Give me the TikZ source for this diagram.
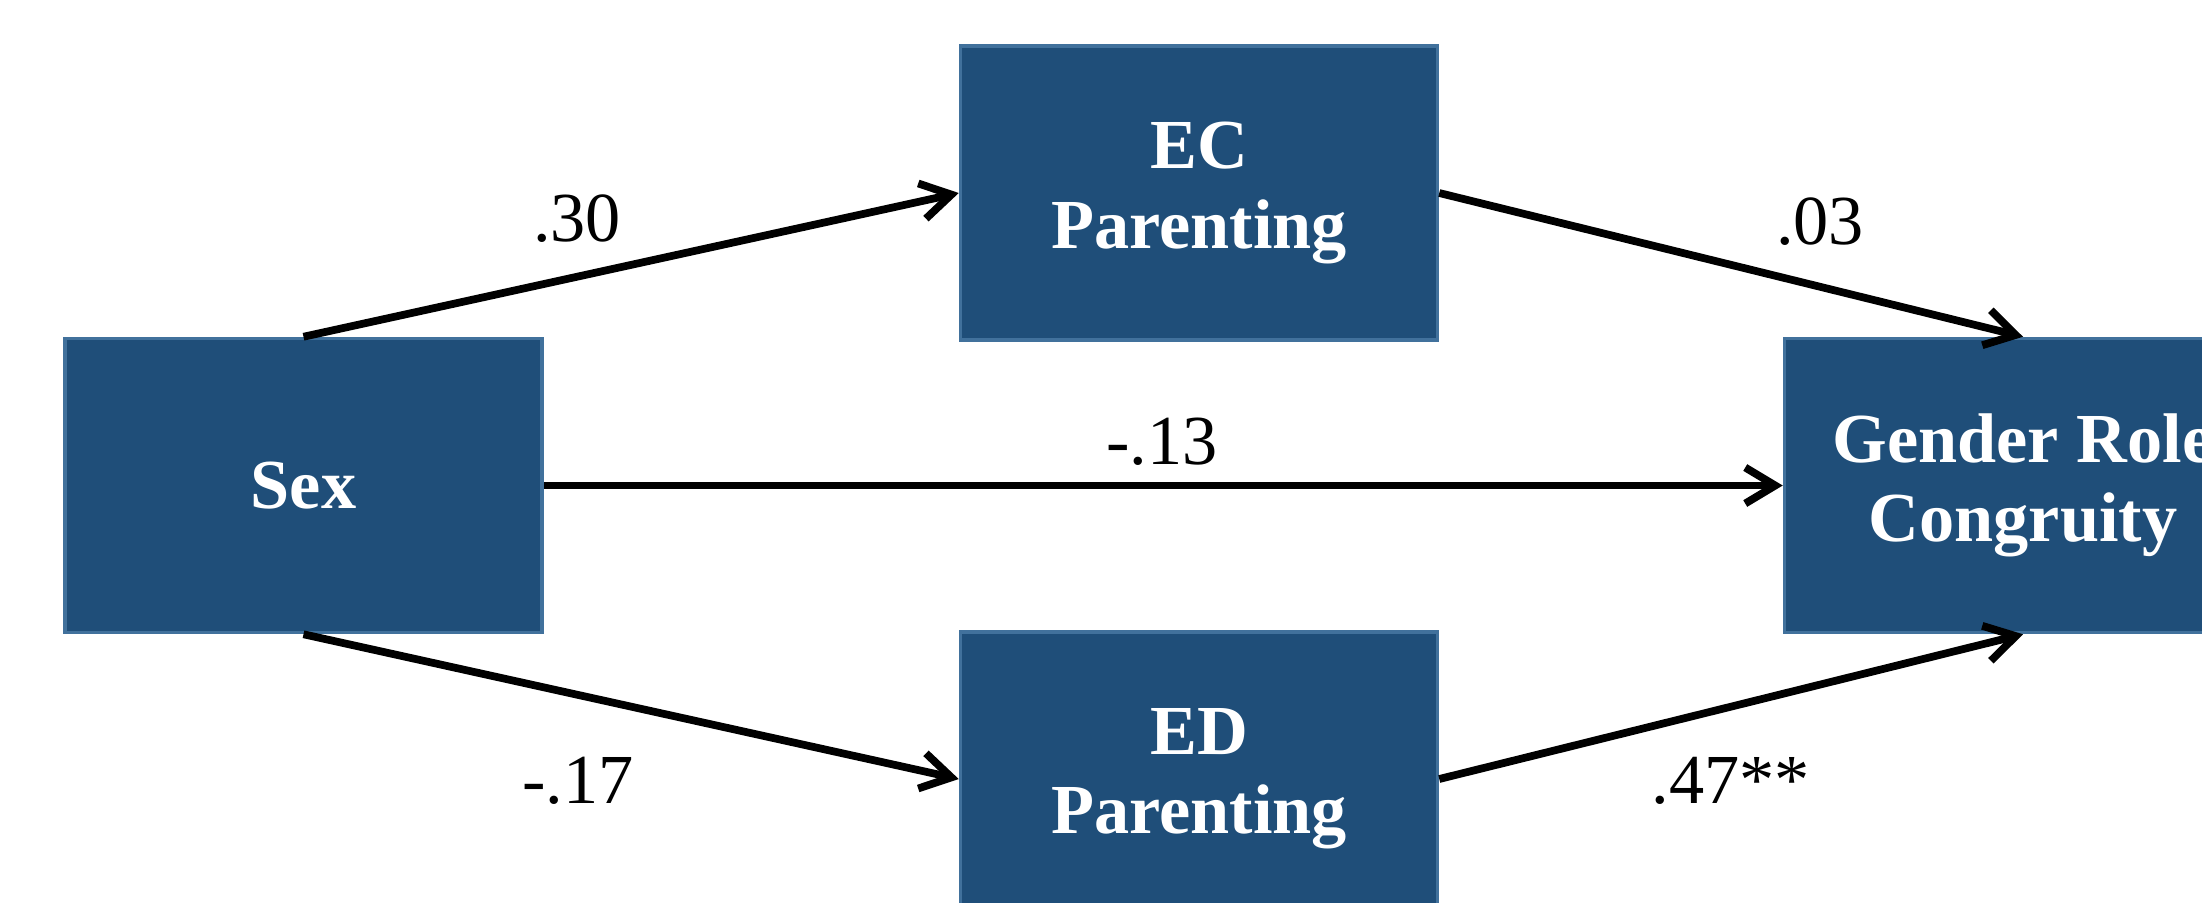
\documentclass[tikz,border=0pt]{standalone}
\usepackage{fontspec}
\setmainfont{Liberation Serif}
\usetikzlibrary{arrows.meta}
\definecolor{boxblue}{HTML}{1F4E79}
\definecolor{boxline}{HTML}{41719C}
\begin{document}
\begin{tikzpicture}[
  var/.style={draw=boxline, line width=1pt, fill=boxblue, text=white,
    minimum width=4.77cm, minimum height=2.94cm, align=center,
    font=\fontsize{20}{22.5}\selectfont\bfseries},
  coef/.style={font=\fontsize{20}{22.5}\selectfont},
  path/.style={draw, line width=2.2pt, -{Straight Barb[length=3mm,width=3.6mm]}}]
\useasboundingbox (0,0) rectangle (22.02,9.02);
\node[var] (sex) at (3.035,4.165) {Sex};
\node[var] (ec) at (11.99,7.09) {EC\\Parenting};
\node[var] (ed) at (11.99,1.23) {ED\\Parenting};
\node[var] (grc) at (20.23,4.165) {Gender Role\\Congruity};

\path[path] (sex.north) -- (ec.west);
\path[path] (sex.south) -- (ed.west);
\path[path] (sex.east) -- (grc.west);
\path[path] (ec.east) -- (grc.north);
\path[path] (ed.east) -- (grc.south);

\node[coef] (a1) at (5.77,6.83) {.30};
\node[coef] (a2) at (5.78,1.21) {-.17};
\node[coef] (c) at (11.62,4.60) {-.13};
\node[coef] (b1) at (18.20,6.80) {.03};
\node[coef] (b2) at (17.31,1.21) {.47**};
\end{tikzpicture}
\end{document}
